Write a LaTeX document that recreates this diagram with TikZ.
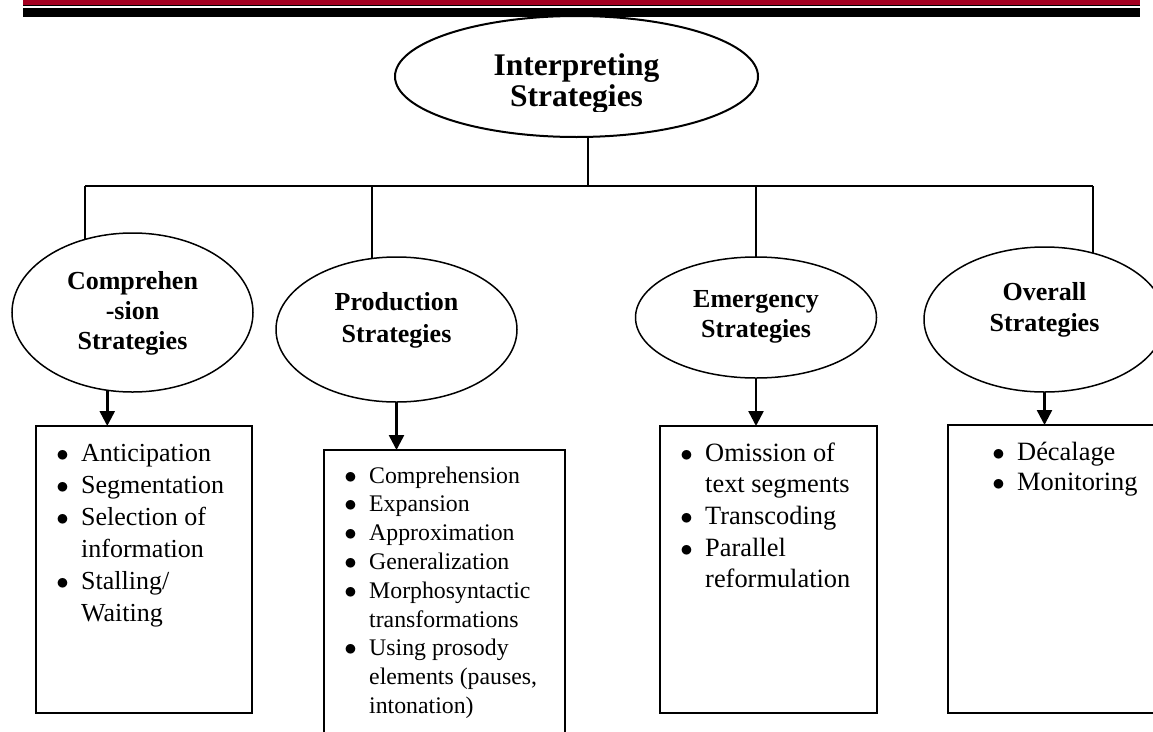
\documentclass[tikz,border=0pt]{standalone}
\usepackage{fontspec}
\setmainfont{Liberation Serif}
\usetikzlibrary{shapes.geometric,arrows.meta,calc}
\definecolor{barred}{RGB}{165,0,33}
\newcommand\itembul{\llap{$\bullet$\hspace{12.5pt}}}
\lineskiplimit=-100pt
\begin{document}
\begin{tikzpicture}[x=1pt,y=-1pt,
  ell/.style={draw,ellipse,inner sep=0,outer sep=0,line width=1.5pt},
  boxnode/.style={draw,rectangle,inner sep=0,outer sep=0,line width=1.8pt},
  lbl/.style={align=center,inner sep=0,anchor=base},
  itm/.style={inner sep=0,anchor=base west,align=left},
  conn/.style={line width=1.5pt},
  arr/.style={line width=2.5pt,-{Triangle[length=15pt,width=15pt]}}]
\useasboundingbox (0,0) rectangle (1153,731);
\clip (0,0) rectangle (1153,731);

% ellipses
\node[ell,line width=2pt,minimum width=363pt,minimum height=121pt] (title) at (576.5,76.5) {};
\node[ell,minimum width=241pt,minimum height=159pt] (comp) at (132.5,312.5) {};
\node[ell,minimum width=241pt,minimum height=145pt] (prod) at (396.5,329.5) {};
\node[ell,minimum width=241pt,minimum height=121pt] (emer) at (756,317.5) {};
\node[ell,minimum width=241pt,minimum height=145pt] (over) at (1044.5,319.5) {};

% labels (anchor = baseline of the last line)
\begin{scope}
\clip (390,20) rectangle (765,111.7);
\node[lbl,font=\fontsize{31.5}{31.7}\selectfont\bfseries] (titletext) at (576.5,106.7) {Interpreting\\Strategies};
\end{scope}
\node[lbl,font=\fontsize{26}{30}\selectfont\bfseries] (comptext) at (132.5,349) {Comprehen\\-sion\\Strategies};
\node[lbl,font=\fontsize{26}{32}\selectfont\bfseries] (prodtext) at (396.5,342) {Production\\Strategies};
\node[lbl,font=\fontsize{26}{30}\selectfont\bfseries] (emertext) at (756,337.5) {Emergency\\Strategies};
\node[lbl,font=\fontsize{26}{31}\selectfont\bfseries] (overtext) at (1044.5,331) {Overall\\Strategies};

% boxes
\node[boxnode,minimum width=216pt,minimum height=287pt] (compbox) at (144,569.5) {};
\node[boxnode,minimum width=241pt,minimum height=290pt] (prodbox) at (444.5,595) {};
\node[boxnode,minimum width=217pt,minimum height=287pt] (emerbox) at (768.5,569.5) {};
\node[boxnode,minimum width=222pt,minimum height=288pt] (overbox) at (1059,569) {};

% box items (anchor = baseline of the last line)
\node[itm,font=\fontsize{26}{32}\selectfont] (compitems) at (81,621)
  {\itembul Anticipation\\\itembul Segmentation\\\itembul Selection of\\information\\\itembul Stalling/\\Waiting};
\node[itm,font=\fontsize{23.8}{28.8}\selectfont] (proditems) at (369,713.4)
  {\itembul Comprehension\\\itembul Expansion\\\itembul Approximation\\\itembul Generalization\\\itembul Morphosyntactic\\transformations\\\itembul Using prosody\\elements (pauses,\\intonation)};
\node[itm,font=\fontsize{26.4}{31.7}\selectfont] (emeritems) at (705,587.8)
  {\itembul Omission of\\text segments\\\itembul Transcoding\\\itembul Parallel\\reformulation};
\node[itm,font=\fontsize{26.4}{30}\selectfont] (overitems) at (1017,490)
  {\itembul D\'ecalage\\\itembul Monitoring};

% connectors
\coordinate (hl) at (0,186);
\draw[conn] (title.281.7) -- (title.281.7 |- hl);
\draw[conn] (comp.123.7 |- hl) -- (over.54.5 |- hl);
\draw[conn] (comp.123.7 |- hl) -- (comp.123.7);
\draw[conn] (prod.109 |- hl) -- (prod.109);
\draw[conn] (emer.north |- hl) -- (emer.north);
\draw[conn] (over.54.5 |- hl) -- (over.54.5);

% arrows
\draw[arr] (comp.252.5) -- (comp.252.5 |- compbox.north);
\draw[arr] (prod.south) -- (prod.south |- prodbox.north);
\draw[arr] (emer.south) -- (emer.south |- emerbox.north);
\draw[arr] (over.south) -- (over.south |- overbox.north);

% top bars
\fill[barred] (23,0) rectangle (1140,5);
\fill[black] (23,5) rectangle (1140,6.2);
\fill[black] (23,8) rectangle (1140,17);
\end{tikzpicture}
\end{document}
